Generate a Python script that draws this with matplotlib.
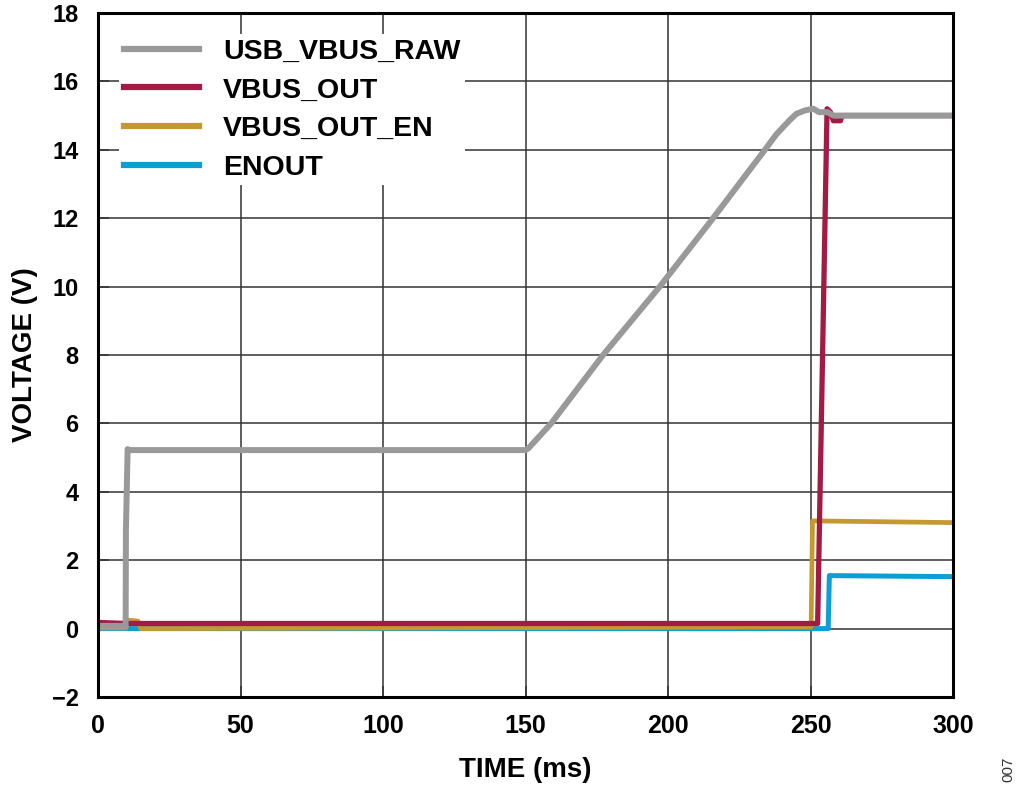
import matplotlib
matplotlib.use("Agg")
import matplotlib.pyplot as plt

plt.rcParams['font.family'] = ['Liberation Sans', 'DejaVu Sans']
plt.rcParams['font.weight'] = 'bold'

# USB_VBUS_RAW (gray)
raw_t = [0, 9.7, 9.8, 10.4, 11, 150, 151, 159.0, 177.2, 197.1, 215.8, 234.0, 238, 242.5, 245, 248, 251, 253, 256, 258, 300]
raw_v = [0.08, 0.08, 2.9, 5.25, 5.22, 5.22, 5.27, 6.0, 8.0, 10.0, 12.0, 14.0, 14.45, 14.85, 15.05, 15.15, 15.2, 15.1, 15.1, 15.0, 15.0]

# VBUS_OUT (crimson)
out_t = [0, 10, 150, 252.5, 255.8, 257, 258, 260.5, 261, 300]
out_v = [0.18, 0.15, 0.15, 0.15, 15.2, 15.1, 14.85, 14.85, 15.0, 15.0]

# VBUS_OUT_EN (gold)
en_t = [0, 9.8, 10.2, 14, 15, 250.2, 250.7, 300]
en_v = [0.02, 0.02, 0.25, 0.22, 0.0, 0.05, 3.15, 3.1]

# ENOUT (blue)
enout_t = [0, 256.2, 256.6, 300]
enout_v = [0.0, 0.0, 1.55, 1.52]

labels = ['USB_VBUS_RAW', 'VBUS_OUT', 'VBUS_OUT_EN', 'ENOUT']
colors = ['#999999', '#A31A45', '#C49A30', '#0AA0D6']

xticks = [0, 50, 100, 150, 200, 250, 300]
yticks = [-2, 0, 2, 4, 6, 8, 10, 12, 14, 16, 18]

fig = plt.figure(figsize=(10.24, 8.01), dpi=100)
ax = fig.add_axes([0.0957, 0.1298, 0.835, 0.854])

for x in xticks:
    ax.axvline(x, color='#333333', lw=1.1, zorder=1)
for y in yticks:
    ax.axhline(y, color='#333333', lw=1.1, zorder=1)

l_enout, = ax.plot(enout_t, enout_v, color=colors[3], lw=3.6, zorder=3, label=labels[3])
l_en, = ax.plot(en_t, en_v, color=colors[2], lw=3.4, zorder=3.1, label=labels[2])
l_out, = ax.plot(out_t, out_v, color=colors[1], lw=3.8, zorder=3.2, label=labels[1])
l_raw, = ax.plot(raw_t, raw_v, color=colors[0], lw=4.3, zorder=3.3, label=labels[0])

leg = ax.legend([l_raw, l_out, l_en, l_enout], labels, loc='upper left',
                frameon=True, fancybox=False, edgecolor='none', facecolor='white', framealpha=1,
                prop={'size': 20.5, 'weight': 'bold'}, handlelength=2.65, handletextpad=0.85,
                labelspacing=0.45, borderpad=0.15, borderaxespad=0.75)
leg.set_zorder(2)
for h in leg.get_lines():
    h.set_linewidth(4.5)

ax.set_xlim(0, 300)
ax.set_ylim(-2, 18)
ax.set_xticks(xticks)
ax.set_yticks(yticks)
ax.set_axisbelow(False)
ax.tick_params(axis='both', direction='in', length=8, width=1.1, color='#333333')
ax.tick_params(axis='y', pad=14, labelsize=17)
ax.tick_params(axis='x', pad=12, labelsize=18)
for s in ax.spines.values():
    s.set_linewidth(2.2)
    s.set_zorder(4)

ax.set_ylabel('VOLTAGE (V)', fontsize=20, fontweight='bold', labelpad=10)
ax.set_xlabel('TIME (ms)', fontsize=20, fontweight='bold', labelpad=14)

fig.text(0.985, 0.04, '007', rotation=90, fontsize=11, fontweight='normal',
         color='#333333', ha='center', va='center')

fig.savefig('out.png', dpi=100)
